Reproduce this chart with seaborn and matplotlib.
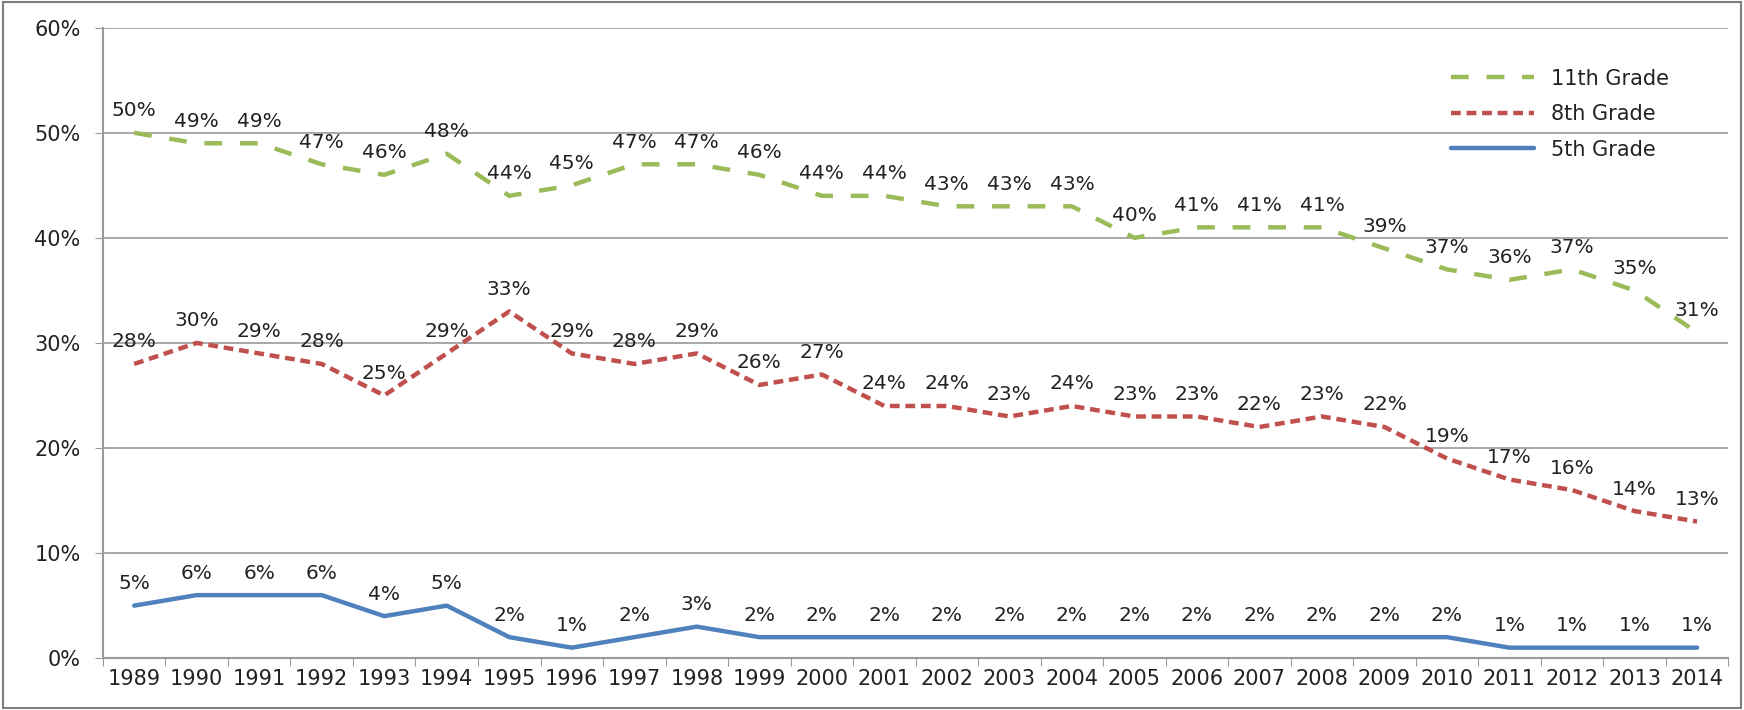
import matplotlib
matplotlib.use("Agg")
import matplotlib.pyplot as plt
import matplotlib.patches as mpatches
from matplotlib.ticker import FixedLocator, NullFormatter, FixedFormatter
import numpy as np
import pandas as pd
import seaborn as sns

years = [str(y) for y in range(1989, 2015)]
grade11 = [50, 49, 49, 47, 46, 48, 44, 45, 47, 47, 46, 44, 44, 43, 43, 43, 40, 41, 41, 41, 39, 37, 36, 37, 35, 31]
grade8 = [28, 30, 29, 28, 25, 29, 33, 29, 28, 29, 26, 27, 24, 24, 23, 24, 23, 23, 22, 23, 22, 19, 17, 16, 14, 13]
grade5 = [5, 6, 6, 6, 4, 5, 2, 1, 2, 3, 2, 2, 2, 2, 2, 2, 2, 2, 2, 2, 2, 2, 1, 1, 1, 1]

sns.set_style("white")
plt.rcParams['font.family'] = ['DejaVu Sans']

fig = plt.figure(figsize=(17.44, 7.10), dpi=100)
ax = fig.add_axes([0.059, 0.073, 0.932, 0.888])

pos = np.arange(len(years))
series = [
    ("11th Grade", grade11, "#9BBB59", (0, (4, 4))),
    ("8th Grade", grade8, "#C0504D", (0, (2.2, 1.3))),
    ("5th Grade", grade5, "#4F81BD", "-"),
]

for name, vals, col, ls in series:
    df = pd.DataFrame({"x": pos, "y": vals})
    sns.lineplot(data=df, x="x", y="y", ax=ax, color=col, linewidth=3.2,
                 linestyle=ls, label=name)
    for xi, v in zip(pos, vals):
        ax.annotate(f"{v}%", (xi, v), xytext=(0, 9), textcoords="offset points",
                    ha="center", va="bottom", fontsize=14.5, color="#222222")

ax.set_xlim(-0.5, len(years) - 0.5)
ax.set_ylim(0, 60)
ax.set_yticks(range(0, 61, 10))
ax.set_yticklabels([f"{t}%" for t in range(0, 61, 10)])
ax.yaxis.grid(True, color="#9a9a9a", linewidth=1.2)
ax.set_axisbelow(True)

ax.xaxis.set_major_locator(FixedLocator(np.arange(-0.5, len(years), 1.0)))
ax.xaxis.set_major_formatter(NullFormatter())
ax.xaxis.set_minor_locator(FixedLocator(pos))
ax.xaxis.set_minor_formatter(FixedFormatter(years))
ax.tick_params(axis="x", which="major", length=6, color="#9a9a9a", direction="out", bottom=True)
ax.tick_params(axis="x", which="minor", length=0, labelsize=15, pad=8, colors="#222222")
ax.tick_params(axis="y", length=6, color="#9a9a9a", labelsize=15, pad=10, colors="#222222", left=True)
ax.set_xlabel("")
ax.set_ylabel("")

for s in ["top", "right"]:
    ax.spines[s].set_visible(False)
for s in ["left", "bottom"]:
    ax.spines[s].set_color("#9a9a9a")
    ax.spines[s].set_linewidth(1.5)

leg = ax.legend(loc="upper right", bbox_to_anchor=(0.975, 0.965), frameon=False,
                fontsize=15, handlelength=4, labelspacing=0.75)
for t in leg.get_texts():
    t.set_color("#222222")

fig.patches.append(mpatches.Rectangle((0.002, 0.003), 0.996, 0.994, transform=fig.transFigure,
                                      fill=False, edgecolor="#7f7f7f", linewidth=1.5))

fig.savefig("out.png", dpi=100)
